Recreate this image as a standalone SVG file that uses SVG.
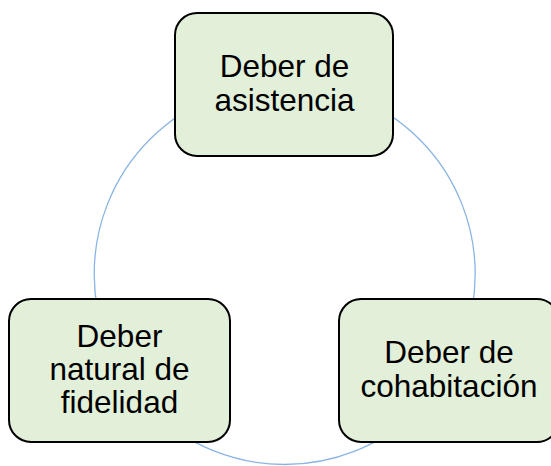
<svg xmlns="http://www.w3.org/2000/svg" width="551" height="466" viewBox="0 0 551 466">
<style>
.box{fill:#e2efd9;stroke:#000;stroke-width:2}
.lbl{font-family:"Liberation Sans",Arial,sans-serif;font-size:31.5px;fill:#000;text-anchor:middle}
.conn{fill:none;stroke:#8ab4e4;stroke-width:1.3}
</style>
<rect width="551" height="466" fill="#fff"/>
<g id="connectors">
<circle class="conn" cx="284.7" cy="274" r="190.5"/>
</g>
<g id="node-asistencia">
<rect class="box" x="175" y="13" width="218" height="143" rx="22"/>
<text class="lbl" x="284.5" y="77">Deber de</text>
<text class="lbl" x="284.5" y="111">asistencia</text>
</g>
<g id="node-fidelidad">
<rect class="box" x="9" y="299" width="221" height="143" rx="22"/>
<text class="lbl" x="119.5" y="347">Deber</text>
<text class="lbl" x="119.5" y="380">natural de</text>
<text class="lbl" x="119.5" y="413">fidelidad</text>
</g>
<g id="node-cohabitacion">
<rect class="box" x="339" y="299" width="220" height="143" rx="22"/>
<text class="lbl" x="449" y="363">Deber de</text>
<text class="lbl" x="449" y="397">cohabitación</text>
</g>
</svg>
